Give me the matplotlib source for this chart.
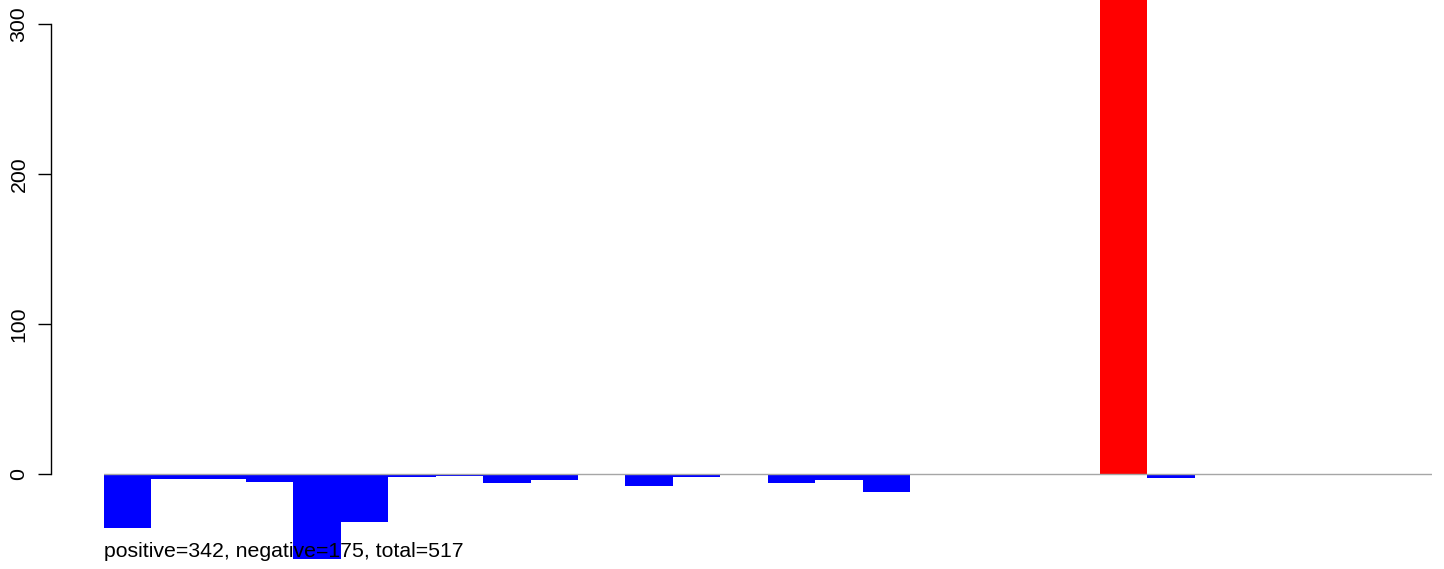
import matplotlib
matplotlib.use("Agg")
import matplotlib.pyplot as plt
from matplotlib.transforms import blended_transform_factory

plt.rcParams['font.family'] = ['Liberation Sans', 'DejaVu Sans']

# bar values (left to right)
values = [-35.5, -3, -3, -5, -56.5, -32, -2, -1, -6, -4, 0, -8, -2, 0,
          -5.5, -4, -11.5, 0, 0, 0, 0, 342, -2.3, 0, 0, 0, 0, 0]
yticks = [0, 100, 200, 300]
summary = "positive=342, negative=175, total=517"

W, H = 1444, 569
fig = plt.figure(figsize=(W / 100, H / 100), dpi=100)
ax = fig.add_axes([103.5 / W, 0, (1432 - 103.5) / W, 1])

colors = ['#FF0000' if v > 0 else '#0000FF' for v in values]
x = list(range(len(values)))
ax.bar(x, values, width=1.0, align='edge', color=colors, linewidth=0, zorder=2)
ax.axhline(0, color='#A6A6A6', lw=1.0, zorder=3)

ax.set_xlim(0, len(values))
ax.set_ylim(-63, 316.3)

for s in ['top', 'right', 'bottom']:
    ax.spines[s].set_visible(False)
ax.spines['left'].set_position(('outward', 38))
ax.spines['left'].set_bounds(0, 300)
ax.spines['left'].set_linewidth(1.0)
ax.set_xticks([])
ax.set_yticks(yticks)
ax.set_yticklabels([str(t) for t in yticks], rotation=90, va='center')
ax.tick_params(axis='y', length=9.5, width=1.0, pad=6.5, labelsize=15.3)

tr = blended_transform_factory(ax.transData, ax.transData)
ax.text(0, -55.3, summary, transform=tr, ha='left', va='baseline',
        fontsize=15.3, color='black', zorder=5)

fig.savefig('out.png', dpi=100)
